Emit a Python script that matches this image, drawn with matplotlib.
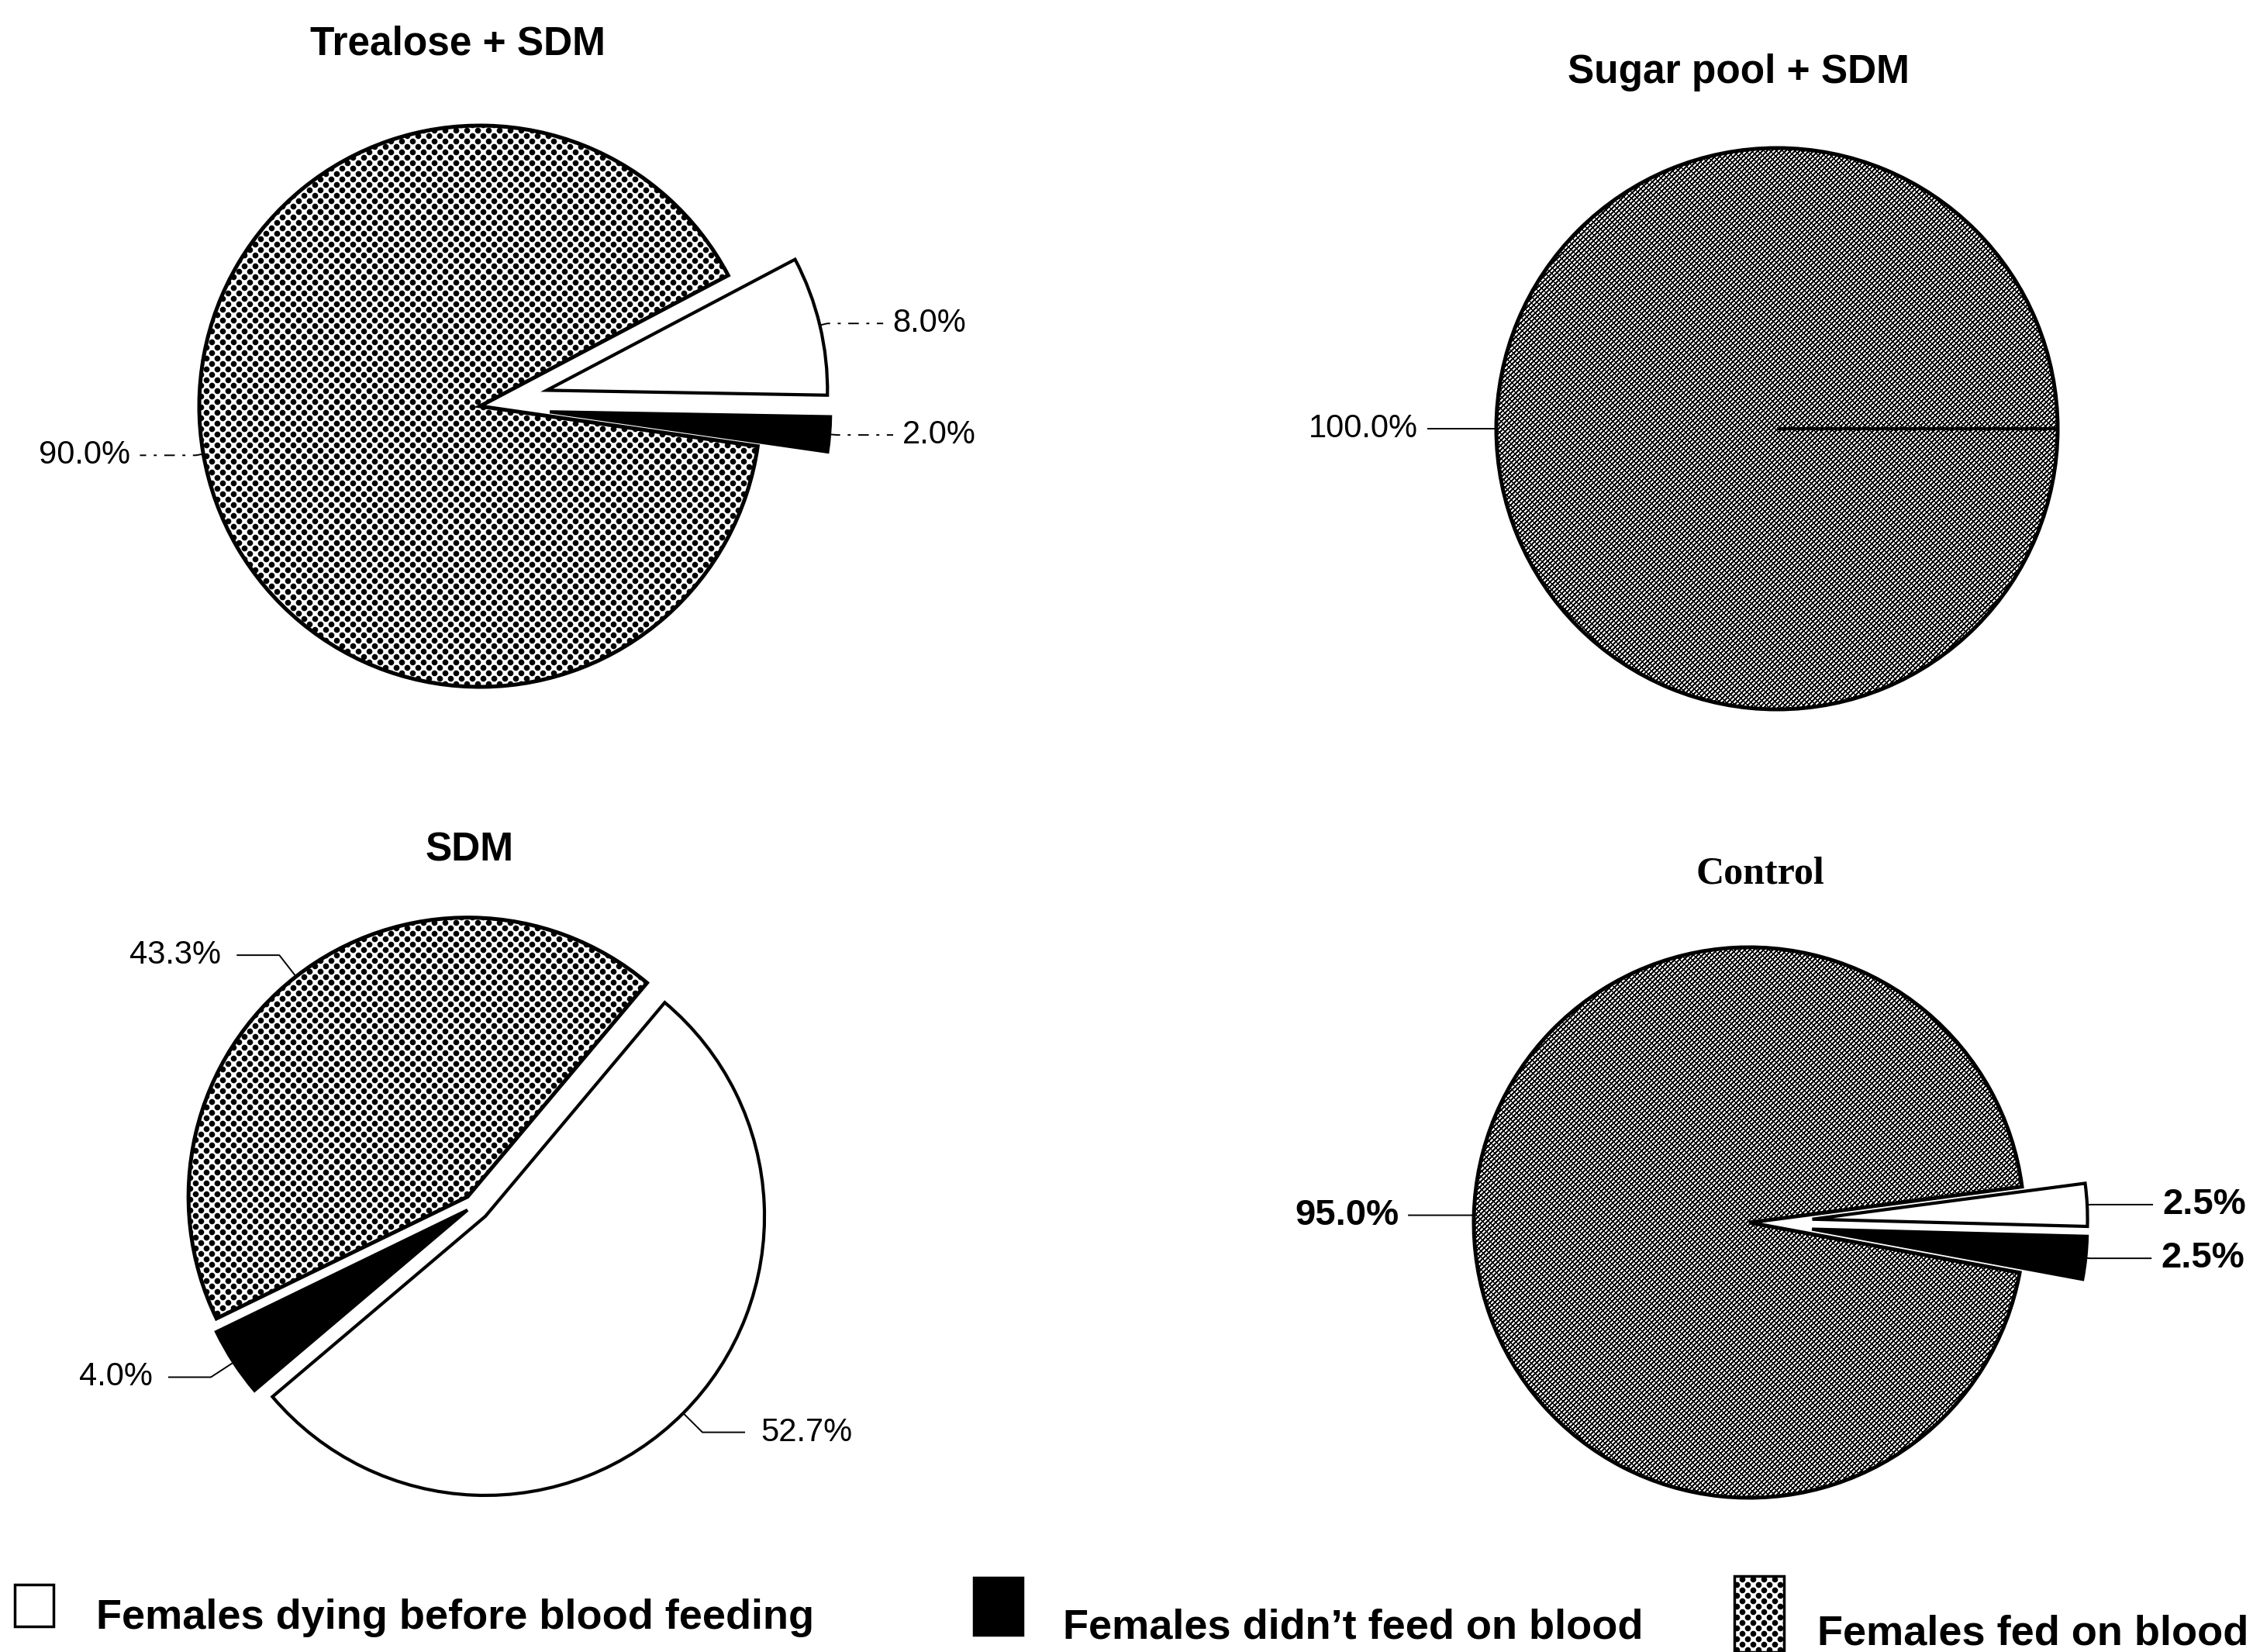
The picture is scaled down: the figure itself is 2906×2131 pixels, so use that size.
import numpy as np
import matplotlib
matplotlib.use("Agg")
import matplotlib.pyplot as plt
from matplotlib.patches import Rectangle

W, H = 2906, 2131

# Share of females (%) per outcome, in the order below
outcomes = [
    "Females dying before blood feeding",
    "Females didn\u2019t feed on blood",
    "Females fed on blood",
]
trealose_sdm = [8.0, 2.0, 90.0]
sugar_pool_sdm = [0.0, 0.0, 100.0]
sdm_only = [52.7, 4.0, 43.3]
control = [2.5, 2.5, 95.0]

group_titles = ["Trealose + SDM", "Sugar pool + SDM", "SDM", "Control"]

SANS = ["Liberation Sans", "DejaVu Sans"]
SERIF = ["Liberation Serif", "DejaVu Serif"]


def dot_texture():
    # staggered dot screen, ~10 px between neighbours
    yy, xx = np.mgrid[0:H, 0:W].astype(float)
    p = 14.0
    u = (xx + yy) / p
    v = (xx - yy) / p
    du = u - np.round(u)
    dv = v - np.round(v)
    d = p * np.sqrt((du ** 2 + dv ** 2) / 2.0)
    return np.clip(d - 3.8 + 0.5, 0, 1)


def stripe_texture():
    # dense "/" stripes broken up by a finer cross grain
    yy, xx = np.mgrid[0:H, 0:W]
    s = (xx + yy) % 6
    t = (xx - yy) % 8
    dark = (s < 3) | (t < 1.5)
    return np.where(dark, 0.0, 1.0)


# layout in pixel coordinates (y measured from the top)
pies = [
    dict(values=trealose_sdm, title=group_titles[0], center=(619, 524), r=362,
         start=27.8, explode=(0.245, 0.25, 0.0), tex="dots",
         title_xy=(590, 57), title_family=SANS, title_size=37,
         label_weight="normal", label_size=30,
         ls=(0, (7, 5, 2, 5)), ext=10, lead=72, gap=12),
    dict(values=sugar_pool_sdm, title=group_titles[1], center=(2292, 553), r=362,
         start=0.0, explode=(0.0, 0.0, 0.0), tex="stripes",
         title_xy=(2242, 93), title_family=SANS, title_size=37,
         label_weight="normal", label_size=30,
         ls="-", ext=4, lead=85, gap=12),
    dict(values=sdm_only, title=group_titles[2], center=(612, 1555), r=360,
         start=50.0, explode=(0.055, 0.03, 0.04), tex="dots",
         title_xy=(606, 1097), title_family=SANS, title_size=37,
         label_weight="normal", label_size=30,
         ls="-", ext=35, lead=55, gap=20),
    dict(values=control, title=group_titles[3], center=(2256, 1577), r=355,
         start=7.5, explode=(0.23, 0.23, 0.0), tex="stripes",
         title_xy=(2270, 1127), title_family=SERIF, title_size=36,
         label_weight="bold", label_size=34,
         ls="-", ext=5, lead=80, gap=12),
]

fig = plt.figure(figsize=(W / 100, H / 100), dpi=100, facecolor="white")
ax = fig.add_axes([0, 0, 1, 1])

textures = {"dots": dot_texture(), "stripes": stripe_texture()}


def fill_with(tex, patch):
    im = ax.imshow(textures[tex], cmap="gray", vmin=0, vmax=1,
                   extent=(0, W, 0, H), interpolation="nearest", zorder=0)
    im.set_clip_path(patch)


for spec in pies:
    cx, cy = spec["center"]
    r = spec["r"]
    wedges, _ = ax.pie(
        spec["values"],
        center=(cx, H - cy),
        radius=r,
        startangle=spec["start"],
        counterclock=False,
        explode=[e * r for e in spec["explode"]],
        colors=["white", "black", "none"],
        wedgeprops=dict(edgecolor="black", linewidth=3, joinstyle="miter"),
    )
    wedges[2].set_linewidth(3.6)
    fill_with(spec["tex"], wedges[2])

    ax.text(spec["title_xy"][0], H - spec["title_xy"][1], spec["title"],
            ha="center", va="center", fontsize=spec["title_size"],
            fontweight="bold", family=spec["title_family"])

    # percentage labels with elbow leaders
    for w, val in zip(wedges, spec["values"]):
        if val <= 0:
            continue
        tm = np.deg2rad(0.5 * (w.theta1 + w.theta2))
        wx, wy = w.center
        c, s = np.cos(tm), np.sin(tm)
        x0, y0 = wx + w.r * c, wy + w.r * s
        x1, y1 = wx + (w.r + spec["ext"]) * c, wy + (w.r + spec["ext"]) * s
        side = 1 if c >= 0 else -1
        x2 = x1 + side * spec["lead"]
        ax.plot([x0, x1, x2], [y0, y1, y1], color="black", lw=1.4,
                ls=spec["ls"], solid_capstyle="butt")
        ax.text(x2 + side * spec["gap"], y1, f"{val:.1f}%",
                ha="left" if side > 0 else "right", va="center",
                fontsize=spec["label_size"], fontweight=spec["label_weight"],
                family=SANS)

# legend along the bottom edge
legend_items = [
    dict(box=(19, 2044, 50, 54), face="white", tex=None, text_xy=(124, 2087)),
    dict(box=(1256, 2035, 63, 74), face="black", tex=None, text_xy=(1371, 2099)),
    dict(box=(2237, 2033, 64, 98), face="none", tex="dots", text_xy=(2344, 2108)),
]
for item, label in zip(legend_items, outcomes):
    bx, by, bw, bh = item["box"]
    rect = Rectangle((bx, H - by - bh), bw, bh, facecolor=item["face"],
                     edgecolor="black", linewidth=2.5, zorder=2)
    ax.add_patch(rect)
    if item["tex"]:
        fill_with(item["tex"], rect)
    tx, ty = item["text_xy"]
    ax.text(tx, H - ty, label, ha="left", va="center", fontsize=39,
            fontweight="bold", family=SANS)

ax.set_xlim(0, W)
ax.set_ylim(0, H)
ax.set_aspect("auto")
ax.axis("off")

fig.savefig("out.png", dpi=100, facecolor="white")
